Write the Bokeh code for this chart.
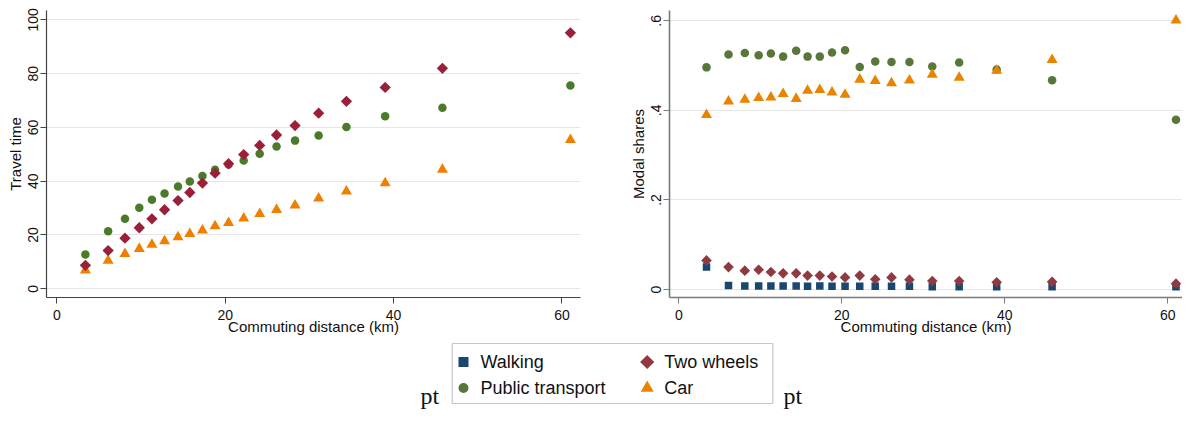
import math
from bokeh.plotting import figure
from bokeh.layouts import column, row
from bokeh.models import FixedTicker, BoxAnnotation, Label, ColumnDataSource
from bokeh.core.properties import value
from bokeh.embed import file_html
from bokeh.resources import INLINE

# ---------------- data ----------------
distance = [3.4, 6.1, 8.1, 9.8, 11.3, 12.8, 14.4, 15.8, 17.3, 18.8,
            20.4, 22.2, 24.1, 26.1, 28.3, 31.1, 34.4, 39.0, 45.8, 61.0]

# travel time (minutes)
tt_public = [12.75, 21.4, 26.0, 30.1, 33.1, 35.4, 38.0, 39.9, 41.9, 44.3,
             46.2, 47.7, 50.2, 52.9, 55.1, 57.0, 60.2, 64.2, 67.3, 75.6]
tt_two_wheels = [8.7, 14.2, 18.8, 22.7, 26.0, 29.4, 32.8, 35.8, 39.3, 43.0,
                 46.5, 49.9, 53.3, 57.2, 60.7, 65.3, 69.7, 74.9, 82.0, 95.2]
tt_car = [6.9, 10.5, 13.0, 14.9, 16.4, 17.7, 19.2, 20.4, 21.7, 23.3,
          24.5, 26.2, 27.9, 29.4, 31.0, 33.6, 36.2, 39.3, 44.3, 55.4]

# modal shares
ms_walking = [0.050, 0.009, 0.008, 0.008, 0.008, 0.008, 0.008, 0.007, 0.008, 0.007,
              0.007, 0.007, 0.007, 0.007, 0.007, 0.006, 0.006, 0.006, 0.006, 0.006]
ms_public = [0.496, 0.525, 0.528, 0.523, 0.527, 0.520, 0.533, 0.520, 0.520, 0.529,
             0.534, 0.497, 0.509, 0.508, 0.508, 0.498, 0.507, 0.491, 0.467, 0.379]
ms_two_wheels = [0.065, 0.050, 0.042, 0.044, 0.039, 0.036, 0.036, 0.031, 0.031, 0.029,
                 0.027, 0.031, 0.023, 0.027, 0.022, 0.019, 0.019, 0.016, 0.017, 0.013]
ms_car = [0.390, 0.420, 0.424, 0.428, 0.429, 0.437, 0.426, 0.444, 0.446, 0.440,
          0.435, 0.469, 0.466, 0.461, 0.467, 0.480, 0.473, 0.489, 0.513, 0.601]

x_ticks = [0, 20, 40, 60]
tt_ticks = [0, 20, 40, 60, 80, 100]
ms_ticks = [0, 0.2, 0.4, 0.6]
ms_tick_labels = ["0", ".2", ".4", ".6"]
series_names = ["Walking", "Public transport", "Two wheels", "Car"]

# ---------------- style ----------------
FONT = "Liberation Sans"
C_NAVY = "#1a476f"
C_GREEN_L = "#4b7a2b"
C_RED_L = "#9a1f38"
C_ORANGE_L = "#f07f00"
C_GREEN_R = "#58773a"
C_RED_R = "#8f3a42"
C_ORANGE_R = "#e98300"


def style(p, yticks, axis_color, axis_width):
    p.outline_line_color = None
    p.xgrid.visible = False
    p.ygrid.grid_line_color = "#e6e6e6"
    p.ygrid.grid_line_width = 1
    p.xaxis.ticker = FixedTicker(ticks=x_ticks)
    p.yaxis.ticker = FixedTicker(ticks=yticks)
    p.ygrid.ticker = FixedTicker(ticks=yticks)
    for ax in (p.xaxis[0], p.yaxis[0]):
        ax.axis_line_color = axis_color
        ax.axis_line_width = axis_width
        ax.major_tick_line_color = axis_color
        ax.major_tick_out = 6
        ax.major_tick_in = 0
        ax.minor_tick_line_color = None
        ax.major_label_text_font = FONT
        ax.major_label_text_font_size = "14px"
        ax.major_label_text_color = "#111111"
        ax.axis_label_text_font = FONT
        ax.axis_label_text_font_size = "15px"
        ax.axis_label_text_font_style = "normal"
        ax.axis_label_text_color = "#111111"
    p.xaxis.major_label_standoff = 6
    p.xaxis.axis_label_standoff = -5
    p.yaxis.major_label_standoff = 2
    p.yaxis.axis_label_standoff = 2
    p.yaxis.major_label_orientation = "parallel"


# ---------------- left panel ----------------
p1 = figure(width=600, height=338, x_range=(-1.22, 62.2), y_range=(-3.25, 103.5),
            min_border_left=46, min_border_right=20, min_border_top=10,
            min_border_bottom=41, output_backend="svg", toolbar_location=None)
style(p1, tt_ticks, "#444444", 1.2)
p1.xaxis.axis_label = "Commuting distance (km)"
p1.yaxis.axis_label = "Travel time"

p1.scatter(distance, tt_public, marker="circle", size=8.5,
           fill_color=C_GREEN_L, line_color=None)
p1.scatter(distance, tt_car, marker="triangle", size=11,
           fill_color=C_ORANGE_L, line_color=None)
p1.scatter(distance, tt_two_wheels, marker="square", angle=math.pi / 4, size=8,
           fill_color=C_RED_L, line_color=None)

# ---------------- right panel ----------------
p2 = figure(width=582, height=338, x_range=(-1.14, 61.8), y_range=(-0.0179, 0.623),
            min_border_left=69, min_border_right=0, min_border_top=10,
            min_border_bottom=41, output_backend="svg", toolbar_location=None)
style(p2, ms_ticks, "#7a7a7a", 1.6)
p2.yaxis.major_label_overrides = {t: l for t, l in zip(ms_ticks, ms_tick_labels)}
p2.xaxis.axis_label = "Commuting distance (km)"
p2.yaxis.axis_label = "Modal shares"

p2.scatter(distance, ms_walking, marker="square", size=7.5,
           fill_color=C_NAVY, line_color=None)
p2.scatter(distance, ms_public, marker="circle", size=8.5,
           fill_color=C_GREEN_R, line_color=None)
p2.scatter(distance, ms_two_wheels, marker="square", angle=math.pi / 4, size=7.5,
           fill_color=C_RED_R, line_color=None)
p2.scatter(distance, ms_car, marker="triangle", size=11,
           fill_color=C_ORANGE_R, line_color=None)

# ---------------- legend strip (pixel-unit canvas) ----------------
STRIP_H = 72
p3 = figure(width=1182, height=STRIP_H, x_range=(0, 1182), y_range=(0, STRIP_H),
            min_border=0, x_axis_location=None, y_axis_location=None,
            output_backend="svg", toolbar_location=None)
p3.outline_line_color = None
p3.xgrid.visible = False
p3.ygrid.visible = False

# legend box layout
BOX_L, BOX_R, BOX_B, BOX_T = 451.7, 772.3, 7, 67
COL_X = [463, 646.7]          # key centres of the two columns
ROW_Y = [BOX_T - 18.5, BOX_T - 44.5]
TEXT_GAP = 17

key_x = [COL_X[0], COL_X[0], COL_X[1], COL_X[1]]
key_y = [ROW_Y[0], ROW_Y[1], ROW_Y[0], ROW_Y[1]]
keys = ColumnDataSource(dict(
    x=key_x, y=key_y,
    tx=[k + TEXT_GAP for k in key_x],
    marker=["square", "circle", "square", "triangle"],
    angle=[0, 0, math.pi / 4, 0],
    size=[10, 10, 10, 13],
    color=[C_NAVY, C_GREEN_R, C_RED_R, C_ORANGE_R],
    label=series_names,
))
p3.scatter("x", "y", source=keys, marker="marker", angle="angle", size="size",
           fill_color="color", line_color=None)
p3.text("tx", "y", text="label", source=keys, text_font=value(FONT),
        text_font_size="18px", text_color="#111111", text_baseline="middle",
        text_align="left")

p3.add_layout(BoxAnnotation(left=BOX_L, right=BOX_R, bottom=BOX_B, top=BOX_T,
                            fill_alpha=0, line_color="#444444", line_width=1.2))

for xpos in (420, 783):
    p3.add_layout(Label(x=xpos, y=1.5, text="pt", text_font="Liberation Serif",
                        text_font_size="24px", text_color="#111111",
                        text_baseline="bottom", text_align="left"))

layout = column(row(p1, p2), p3)
open("out.html", "w").write(file_html(layout, INLINE))
